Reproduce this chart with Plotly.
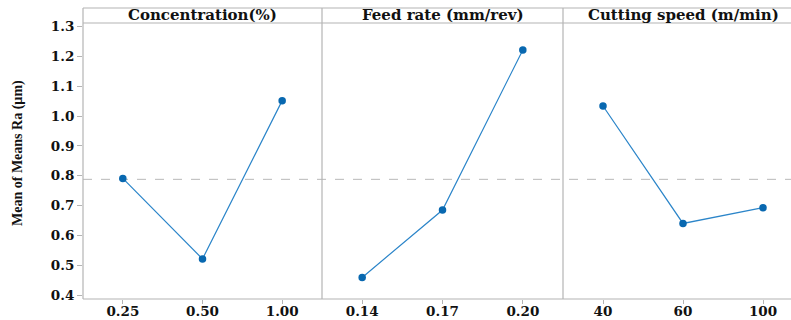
import plotly.graph_objects as go

# Data
panel_titles = ["Concentration(%)", "Feed rate (mm/rev)", "Cutting speed (m/min)"]
conc_levels = ["0.25", "0.50", "1.00"]
conc_means = [0.791, 0.521, 1.052]
feed_levels = ["0.14", "0.17", "0.20"]
feed_means = [0.459, 0.685, 1.222]
speed_levels = ["40", "60", "100"]
speed_means = [1.034, 0.640, 0.693]
grand_mean = 0.788
y_ticks = [0.4, 0.5, 0.6, 0.7, 0.8, 0.9, 1.0, 1.1, 1.2, 1.3]

W, H = 791, 320
ML, MR, MT, MB = 83, 0, 23, 21
PW, PH = W - ML - MR, H - MT - MB

def px_to_x(px):
    return (px - ML) / PW

def py_to_y(py):
    return (H - MB - py) / PH

doms = [[0, px_to_x(322)], [px_to_x(322), px_to_x(563)], [px_to_x(563), 1.0]]
xranges = [[-0.5, 2.5], [-0.5, 2.5], [-0.5, 2.35]]

levels = [conc_levels, feed_levels, speed_levels]
means = [conc_means, feed_means, speed_means]

fig = go.Figure()
border = "#b4b4b4"
tickfont = dict(family="DejaVu Serif", size=13.5, color="#111", weight="bold")

for i in range(3):
    xa = "x" if i == 0 else f"x{i+1}"
    fig.add_trace(go.Scatter(
        x=levels[i], y=means[i], mode="lines+markers",
        line=dict(color="#2b85c9", width=1.2),
        marker=dict(color="#0868b0", size=7.5, symbol="circle"),
        xaxis=xa, yaxis="y", showlegend=False, hoverinfo="x+y"))
    axkey = "xaxis" if i == 0 else f"xaxis{i+1}"
    fig.update_layout(**{axkey: dict(
        domain=doms[i], type="category", categoryorder="array", categoryarray=levels[i],
        range=xranges[i], showgrid=False, zeroline=False, showline=False,
        ticks="outside", ticklen=4, tickcolor=border, tickwidth=1,
        ticklabelstandoff=-4,
        tickfont=tickfont, anchor="y", fixedrange=True, automargin=False)})

# Grand mean dashed line across all panels
fig.add_shape(type="line", xref="paper", yref="y", x0=0, x1=1, y0=grand_mean, y1=grand_mean,
              line=dict(color="#b8b8b8", width=1, dash="dash"), layer="below")

fig.update_layout(
    yaxis=dict(range=[0.3866, 1.3124], tickvals=y_ticks, ticktext=[f"{v:.1f}" for v in y_ticks],
               showgrid=False, zeroline=False, showline=False, ticks="outside", ticklen=5,
               tickcolor=border, tickfont=tickfont, fixedrange=True, automargin=False),
    width=W, height=H, margin=dict(l=ML, r=MR, t=MT, b=MB, autoexpand=False),
    plot_bgcolor="white", paper_bgcolor="white",
)

top = py_to_y(8)
# borders
for px in [83, 322, 563]:
    xp = px_to_x(px)
    fig.add_shape(type="line", xref="paper", yref="paper", x0=xp, x1=xp, y0=0, y1=top,
                  line=dict(color=border, width=1.2))
for yp in [0, 1, top]:
    fig.add_shape(type="line", xref="paper", yref="paper", x0=0, x1=1, y0=yp, y1=yp,
                  line=dict(color=border, width=1.2))

centers = [px_to_x(202.5), px_to_x(443), px_to_x(683)]
for t, c in zip(panel_titles, centers):
    fig.add_annotation(text=t, x=c, y=py_to_y(15.5), xref="paper", yref="paper",
                       showarrow=False, xanchor="center", yanchor="middle",
                       font=dict(family="DejaVu Serif", size=15, color="#111", weight="bold"))

fig.add_annotation(text="Mean of Means Ra (µm)", x=px_to_x(18), y=py_to_y(153),
                   xref="paper", yref="paper", showarrow=False, textangle=-90,
                   xanchor="center", yanchor="middle",
                   font=dict(family="Liberation Serif", size=14, color="#111", weight="bold"))

fig.write_html("out.html", config={"displayModeBar": False},
               post_script="document.body.style.margin='0';document.body.style.overflow='hidden';")
